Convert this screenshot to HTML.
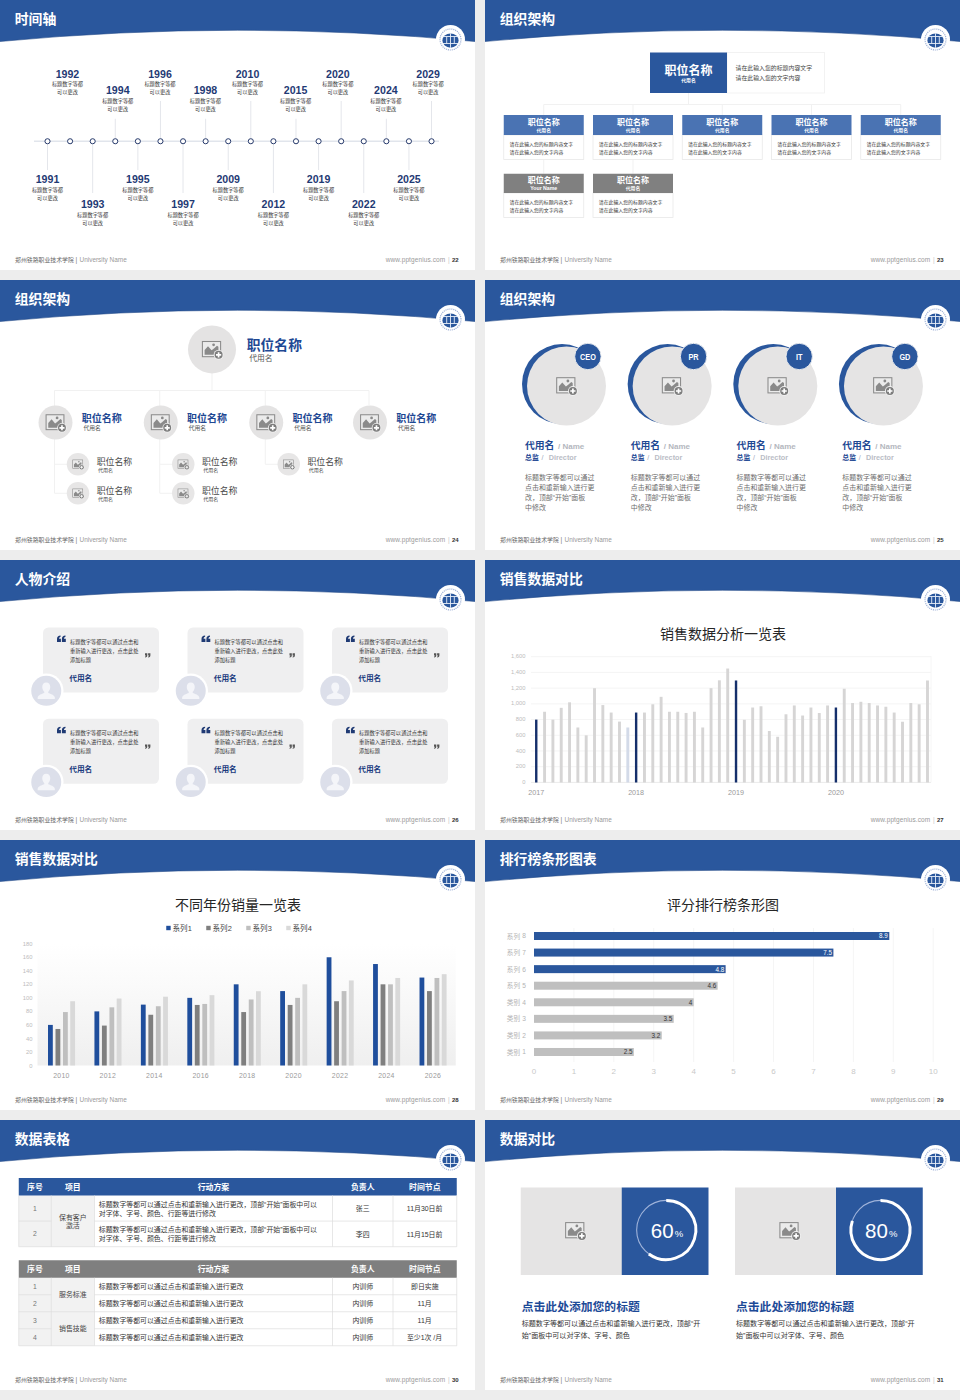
<!DOCTYPE html><html lang="zh"><head><meta charset="utf-8"><title>PPT slides</title><style>html,body{margin:0;padding:0}body{width:960px;height:1400px;background:#ededed;position:relative;overflow:hidden;font-family:"Liberation Sans","Noto Sans CJK SC",sans-serif}.s{position:absolute;width:475px;height:270px;background:#fff;overflow:hidden}.s svg{display:block}text{font-family:"Liberation Sans","Noto Sans CJK SC",sans-serif}#defs{position:absolute;width:0;height:0;overflow:hidden}</style></head><body>
<svg id="defs" width="0" height="0" aria-hidden="true"><defs><linearGradient id="pg" x1="0" y1="0" x2="0" y2="1"><stop offset="0" stop-color="#fff"/><stop offset="0.35" stop-color="#fafafa"/><stop offset="1" stop-color="#efefef"/></linearGradient><g id="imgico"><rect x="-9.6" y="-7.9" width="18.2" height="15.2" fill="#ebebeb" stroke="#8b8b8b" stroke-width="1.05"/><path d="M-7.4 5.3V0.6L-4 -3.2L-0.4 0.9L1.6 -0.6L5 -3.6L6.4 -2.6V5.3Z" fill="#8a8a8a"/><circle cx="1.6" cy="-4.6" r="1.4" fill="#8a8a8a"/><circle cx="6.6" cy="5.4" r="4.9" fill="#f1f1f1"/><circle cx="6.6" cy="5.4" r="4" fill="#7d7d7d"/><path d="M4 5.4H9.2M6.6 2.8V8" stroke="#fff" stroke-width="1.7"/></g><symbol id="logo" overflow="visible"><circle r="14.5" fill="#fff"/><circle r="10.5" fill="none" stroke="#9db0d6" stroke-width="1.2" stroke-dasharray="1.1 0.9"/><ellipse cy="1.1" rx="8.1" ry="7.1" fill="#2a579d"/><path d="M0 -6.2V8.4M-8 -3H8M-8 4H8M-3.8 -3V4M3.8 -3V4" stroke="#e8eef8" stroke-width="0.9" fill="none"/></symbol><symbol id="avatar" overflow="visible"><circle r="17.3" fill="#fff"/><circle r="15" fill="#dcdfea"/><path d="M0 -8.2c2.6 0 4 2 4 4.4c0 2.2 -1 3.9 -2 4.7v1.4c2.4 0.9 6 1.9 6.6 4.4v1.6h-17.2v-1.6c0.6 -2.5 4.2 -3.5 6.6 -4.4v-1.4c-1 -0.8 -2 -2.5 -2 -4.7c0 -2.4 1.4 -4.4 4 -4.4z" fill="#f4f5f9"/></symbol><symbol id="oq" overflow="visible"><path d="M0 6.4V3.4C0 1.3 1.2 0.1 3.6 0V1.2C2.6 1.5 2.1 2.2 2.1 3.2H3.9V6.4ZM4.9 6.4V3.4C4.9 1.3 6.1 0.1 8.5 0V1.2C7.5 1.5 7 2.2 7 3.2H8.8V6.4Z" fill="#1f3a74"/></symbol><symbol id="cq" overflow="visible"><path d="M0 0H2.3V2C2.3 3.4 1.5 4.2 0 4.3V3.5C0.6 3.3 0.9 2.9 0.9 2.2H0ZM3.1 0H5.4V2C5.4 3.4 4.6 4.2 3.1 4.3V3.5C3.7 3.3 4 2.9 4 2.2H3.1Z" fill="#555"/></symbol></defs></svg>
<section class="s" style="left:0px;top:0px"><svg width="475" height="270" viewBox="0 0 475 270"><path d="M0 0H475V41.5Q237.5 19 0 41.5Z" fill="#2a579d"/><path d="M475 41.5Q237.5 19 0 41.5" fill="none" stroke="#1f4685" stroke-width="0.8" opacity="0.7"/><use href="#logo" x="450.5" y="39.5"/><text x="14.7" y="24.01" font-size="13.85" font-weight="700" fill="#fff">时间轴</text><text x="15" y="261.74" font-size="5.9" fill="#666">郑州铁路职业技术学院</text><text x="75.5" y="261.83" font-size="6.5" fill="#777">|</text><text x="79.5" y="261.81" font-size="6.45" fill="#9a9a9a">University Name</text><text x="385.75" y="261.83" font-size="6.5" letter-spacing="0.1" fill="#9a9a9a">www.pptgenius.com</text><text x="448" y="261.83" font-size="6.5" fill="#c8c8c8">|</text><text x="452" y="261.65" font-size="6" font-weight="700" fill="#333">22</text><path d="M34 141.25L439 141.25" stroke="#e1e5ec" stroke-width="1.4" fill="none"/><path d="M47.5 144.5L47.5 170" stroke="#e4e6eb" stroke-width="1" fill="none"/><text x="47.5" y="183.29" font-size="10.6" font-weight="700" text-anchor="middle" fill="#1f3a74">1991</text><text x="31.9" y="192.48" font-size="5.2" fill="#333">标题数字等都</text><text x="37.1" y="200.23" font-size="5.2" fill="#333">可以更改</text><path d="M92.68 144.5L92.68 193" stroke="#e4e6eb" stroke-width="1" fill="none"/><text x="92.68" y="208.29" font-size="10.6" font-weight="700" text-anchor="middle" fill="#1f3a74">1993</text><text x="77.08" y="217.48" font-size="5.2" fill="#333">标题数字等都</text><text x="82.28" y="225.23" font-size="5.2" fill="#333">可以更改</text><path d="M137.86 144.5L137.86 170" stroke="#e4e6eb" stroke-width="1" fill="none"/><text x="137.86" y="183.29" font-size="10.6" font-weight="700" text-anchor="middle" fill="#1f3a74">1995</text><text x="122.26" y="192.48" font-size="5.2" fill="#333">标题数字等都</text><text x="127.46" y="200.23" font-size="5.2" fill="#333">可以更改</text><path d="M183.04 144.5L183.04 193" stroke="#e4e6eb" stroke-width="1" fill="none"/><text x="183.04" y="208.29" font-size="10.6" font-weight="700" text-anchor="middle" fill="#1f3a74">1997</text><text x="167.44" y="217.48" font-size="5.2" fill="#333">标题数字等都</text><text x="172.64" y="225.23" font-size="5.2" fill="#333">可以更改</text><path d="M228.22 144.5L228.22 170" stroke="#e4e6eb" stroke-width="1" fill="none"/><text x="228.22" y="183.29" font-size="10.6" font-weight="700" text-anchor="middle" fill="#1f3a74">2009</text><text x="212.62" y="192.48" font-size="5.2" fill="#333">标题数字等都</text><text x="217.82" y="200.23" font-size="5.2" fill="#333">可以更改</text><path d="M273.4 144.5L273.4 193" stroke="#e4e6eb" stroke-width="1" fill="none"/><text x="273.4" y="208.29" font-size="10.6" font-weight="700" text-anchor="middle" fill="#1f3a74">2012</text><text x="257.8" y="217.48" font-size="5.2" fill="#333">标题数字等都</text><text x="263" y="225.23" font-size="5.2" fill="#333">可以更改</text><path d="M318.58 144.5L318.58 170" stroke="#e4e6eb" stroke-width="1" fill="none"/><text x="318.58" y="183.29" font-size="10.6" font-weight="700" text-anchor="middle" fill="#1f3a74">2019</text><text x="302.98" y="192.48" font-size="5.2" fill="#333">标题数字等都</text><text x="308.18" y="200.23" font-size="5.2" fill="#333">可以更改</text><path d="M363.76 144.5L363.76 193" stroke="#e4e6eb" stroke-width="1" fill="none"/><text x="363.76" y="208.29" font-size="10.6" font-weight="700" text-anchor="middle" fill="#1f3a74">2022</text><text x="348.16" y="217.48" font-size="5.2" fill="#333">标题数字等都</text><text x="353.36" y="225.23" font-size="5.2" fill="#333">可以更改</text><path d="M408.94 144.5L408.94 170" stroke="#e4e6eb" stroke-width="1" fill="none"/><text x="408.94" y="183.29" font-size="10.6" font-weight="700" text-anchor="middle" fill="#1f3a74">2025</text><text x="393.34" y="192.48" font-size="5.2" fill="#333">标题数字等都</text><text x="398.54" y="200.23" font-size="5.2" fill="#333">可以更改</text><text x="67.49" y="77.54" font-size="10.6" font-weight="700" text-anchor="middle" fill="#1f3a74">1992</text><text x="51.89" y="86.48" font-size="5.2" fill="#333">标题数字等都</text><text x="57.09" y="94.33" font-size="5.2" fill="#333">可以更改</text><path d="M115.27 118.75L115.27 138" stroke="#e4e6eb" stroke-width="1" fill="none"/><text x="117.77" y="93.79" font-size="10.6" font-weight="700" text-anchor="middle" fill="#1f3a74">1994</text><text x="102.17" y="102.73" font-size="5.2" fill="#333">标题数字等都</text><text x="107.37" y="110.58" font-size="5.2" fill="#333">可以更改</text><path d="M160.45 101L160.45 138" stroke="#e4e6eb" stroke-width="1" fill="none"/><text x="160" y="77.54" font-size="10.6" font-weight="700" text-anchor="middle" fill="#1f3a74">1996</text><text x="144.4" y="86.48" font-size="5.2" fill="#333">标题数字等都</text><text x="149.6" y="94.33" font-size="5.2" fill="#333">可以更改</text><path d="M205.63 118.75L205.63 138" stroke="#e4e6eb" stroke-width="1" fill="none"/><text x="205.43" y="93.79" font-size="10.6" font-weight="700" text-anchor="middle" fill="#1f3a74">1998</text><text x="189.83" y="102.73" font-size="5.2" fill="#333">标题数字等都</text><text x="195.03" y="110.58" font-size="5.2" fill="#333">可以更改</text><path d="M250.81 101L250.81 138" stroke="#e4e6eb" stroke-width="1" fill="none"/><text x="247.51" y="77.54" font-size="10.6" font-weight="700" text-anchor="middle" fill="#1f3a74">2010</text><text x="231.91" y="86.48" font-size="5.2" fill="#333">标题数字等都</text><text x="237.11" y="94.33" font-size="5.2" fill="#333">可以更改</text><path d="M295.99 118.75L295.99 138" stroke="#e4e6eb" stroke-width="1" fill="none"/><text x="295.59" y="93.79" font-size="10.6" font-weight="700" text-anchor="middle" fill="#1f3a74">2015</text><text x="279.99" y="102.73" font-size="5.2" fill="#333">标题数字等都</text><text x="285.19" y="110.58" font-size="5.2" fill="#333">可以更改</text><path d="M341.17 101L341.17 138" stroke="#e4e6eb" stroke-width="1" fill="none"/><text x="337.87" y="77.54" font-size="10.6" font-weight="700" text-anchor="middle" fill="#1f3a74">2020</text><text x="322.27" y="86.48" font-size="5.2" fill="#333">标题数字等都</text><text x="327.47" y="94.33" font-size="5.2" fill="#333">可以更改</text><path d="M386.35 118.75L386.35 138" stroke="#e4e6eb" stroke-width="1" fill="none"/><text x="385.9" y="93.79" font-size="10.6" font-weight="700" text-anchor="middle" fill="#1f3a74">2024</text><text x="370.3" y="102.73" font-size="5.2" fill="#333">标题数字等都</text><text x="375.5" y="110.58" font-size="5.2" fill="#333">可以更改</text><path d="M431.53 101L431.53 138" stroke="#e4e6eb" stroke-width="1" fill="none"/><text x="428.13" y="77.54" font-size="10.6" font-weight="700" text-anchor="middle" fill="#1f3a74">2029</text><text x="412.53" y="86.48" font-size="5.2" fill="#333">标题数字等都</text><text x="417.73" y="94.33" font-size="5.2" fill="#333">可以更改</text><circle cx="47.5" cy="141.25" r="2.55" fill="#fff" stroke="#1b2f63" stroke-width="0.95"/><circle cx="70.09" cy="141.25" r="2.55" fill="#fff" stroke="#1b2f63" stroke-width="0.95"/><circle cx="92.68" cy="141.25" r="2.55" fill="#fff" stroke="#1b2f63" stroke-width="0.95"/><circle cx="115.27" cy="141.25" r="2.55" fill="#fff" stroke="#1b2f63" stroke-width="0.95"/><circle cx="137.86" cy="141.25" r="2.55" fill="#fff" stroke="#1b2f63" stroke-width="0.95"/><circle cx="160.45" cy="141.25" r="2.55" fill="#fff" stroke="#1b2f63" stroke-width="0.95"/><circle cx="183.04" cy="141.25" r="2.55" fill="#fff" stroke="#1b2f63" stroke-width="0.95"/><circle cx="205.63" cy="141.25" r="2.55" fill="#fff" stroke="#1b2f63" stroke-width="0.95"/><circle cx="228.22" cy="141.25" r="2.55" fill="#fff" stroke="#1b2f63" stroke-width="0.95"/><circle cx="250.81" cy="141.25" r="2.55" fill="#fff" stroke="#1b2f63" stroke-width="0.95"/><circle cx="273.4" cy="141.25" r="2.55" fill="#fff" stroke="#1b2f63" stroke-width="0.95"/><circle cx="295.99" cy="141.25" r="2.55" fill="#fff" stroke="#1b2f63" stroke-width="0.95"/><circle cx="318.58" cy="141.25" r="2.55" fill="#fff" stroke="#1b2f63" stroke-width="0.95"/><circle cx="341.17" cy="141.25" r="2.55" fill="#fff" stroke="#1b2f63" stroke-width="0.95"/><circle cx="363.76" cy="141.25" r="2.55" fill="#fff" stroke="#1b2f63" stroke-width="0.95"/><circle cx="386.35" cy="141.25" r="2.55" fill="#fff" stroke="#1b2f63" stroke-width="0.95"/><circle cx="408.94" cy="141.25" r="2.55" fill="#fff" stroke="#1b2f63" stroke-width="0.95"/><circle cx="431.53" cy="141.25" r="2.55" fill="#fff" stroke="#1b2f63" stroke-width="0.95"/></svg></section>
<section class="s" style="left:485px;top:0px"><svg width="475" height="270" viewBox="0 0 475 270"><path d="M0 0H475V41.5Q237.5 19 0 41.5Z" fill="#2a579d"/><path d="M475 41.5Q237.5 19 0 41.5" fill="none" stroke="#1f4685" stroke-width="0.8" opacity="0.7"/><use href="#logo" x="450.5" y="39.5"/><text x="14.7" y="24.01" font-size="13.85" font-weight="700" fill="#fff">组织架构</text><text x="15" y="261.74" font-size="5.9" fill="#666">郑州铁路职业技术学院</text><text x="75.5" y="261.83" font-size="6.5" fill="#777">|</text><text x="79.5" y="261.81" font-size="6.45" fill="#9a9a9a">University Name</text><text x="385.75" y="261.83" font-size="6.5" letter-spacing="0.1" fill="#9a9a9a">www.pptgenius.com</text><text x="448" y="261.83" font-size="6.5" fill="#c8c8c8">|</text><text x="452" y="261.65" font-size="6" font-weight="700" fill="#333">23</text><path d="M203.5 93L203.5 104.5" stroke="#f1f1f1" stroke-width="1" fill="none"/><path d="M58.75 104.5L415.75 104.5" stroke="#f1f1f1" stroke-width="1" fill="none"/><path d="M58.75 104.5L58.75 115" stroke="#f1f1f1" stroke-width="1" fill="none"/><path d="M148 104.5L148 115" stroke="#f1f1f1" stroke-width="1" fill="none"/><path d="M237.25 104.5L237.25 115" stroke="#f1f1f1" stroke-width="1" fill="none"/><path d="M326.5 104.5L326.5 115" stroke="#f1f1f1" stroke-width="1" fill="none"/><path d="M415.75 104.5L415.75 115" stroke="#f1f1f1" stroke-width="1" fill="none"/><path d="M58.75 159.5L58.75 173.75" stroke="#f1f1f1" stroke-width="1" fill="none"/><path d="M148 159.5L148 173.75" stroke="#f1f1f1" stroke-width="1" fill="none"/><rect x="242" y="52.5" width="97.5" height="40.5" fill="#fff" stroke="#efefef" stroke-width="0.8"/><rect x="165" y="52.5" width="77" height="40.5" fill="#2a579d"/><text x="179.5" y="74.56" font-size="12" font-weight="700" fill="#fff">职位名称</text><text x="196.3" y="82.12" font-size="4.8" font-weight="700" fill="#fff">代用名</text><text x="250.5" y="70.49" font-size="5.9" fill="#444">请在此输入您的标题内容文字</text><text x="250.5" y="80.24" font-size="5.9" fill="#444">请在此输入您的文字内容</text><rect x="18.75" y="135" width="80" height="24.5" fill="#fff" stroke="#e8e8e8" stroke-width="0.8"/><rect x="18.75" y="115" width="80" height="20" fill="#4a73b3"/><text x="42.75" y="125.04" font-size="8" font-weight="700" fill="#fff">职位名称</text><text x="51.55" y="132.32" font-size="4.8" font-weight="700" fill="#fff">代用名</text><text x="24.5" y="145.61" font-size="4.9" fill="#333">请在此输入您的标题内容文字</text><text x="24.5" y="153.61" font-size="4.9" fill="#333">请在此输入您的文字内容</text><rect x="108" y="135" width="80" height="24.5" fill="#fff" stroke="#e8e8e8" stroke-width="0.8"/><rect x="108" y="115" width="80" height="20" fill="#4a73b3"/><text x="132" y="125.04" font-size="8" font-weight="700" fill="#fff">职位名称</text><text x="140.8" y="132.32" font-size="4.8" font-weight="700" fill="#fff">代用名</text><text x="113.75" y="145.61" font-size="4.9" fill="#333">请在此输入您的标题内容文字</text><text x="113.75" y="153.61" font-size="4.9" fill="#333">请在此输入您的文字内容</text><rect x="197.25" y="135" width="80" height="24.5" fill="#fff" stroke="#e8e8e8" stroke-width="0.8"/><rect x="197.25" y="115" width="80" height="20" fill="#4a73b3"/><text x="221.25" y="125.04" font-size="8" font-weight="700" fill="#fff">职位名称</text><text x="230.05" y="132.32" font-size="4.8" font-weight="700" fill="#fff">代用名</text><text x="203" y="145.61" font-size="4.9" fill="#333">请在此输入您的标题内容文字</text><text x="203" y="153.61" font-size="4.9" fill="#333">请在此输入您的文字内容</text><rect x="286.5" y="135" width="80" height="24.5" fill="#fff" stroke="#e8e8e8" stroke-width="0.8"/><rect x="286.5" y="115" width="80" height="20" fill="#4a73b3"/><text x="310.5" y="125.04" font-size="8" font-weight="700" fill="#fff">职位名称</text><text x="319.3" y="132.32" font-size="4.8" font-weight="700" fill="#fff">代用名</text><text x="292.25" y="145.61" font-size="4.9" fill="#333">请在此输入您的标题内容文字</text><text x="292.25" y="153.61" font-size="4.9" fill="#333">请在此输入您的文字内容</text><rect x="375.75" y="135" width="80" height="24.5" fill="#fff" stroke="#e8e8e8" stroke-width="0.8"/><rect x="375.75" y="115" width="80" height="20" fill="#4a73b3"/><text x="399.75" y="125.04" font-size="8" font-weight="700" fill="#fff">职位名称</text><text x="408.55" y="132.32" font-size="4.8" font-weight="700" fill="#fff">代用名</text><text x="381.5" y="145.61" font-size="4.9" fill="#333">请在此输入您的标题内容文字</text><text x="381.5" y="153.61" font-size="4.9" fill="#333">请在此输入您的文字内容</text><rect x="18.75" y="193" width="80" height="24.5" fill="#fff" stroke="#e8e8e8" stroke-width="0.8"/><rect x="18.75" y="173.75" width="80" height="19.25" fill="#808080"/><text x="42.75" y="182.54" font-size="8" font-weight="700" fill="#fff">职位名称</text><text x="58.75" y="190.16" font-size="5.2" font-weight="700" text-anchor="middle" fill="#fff">Your Name</text><text x="24.5" y="203.86" font-size="4.9" fill="#333">请在此输入您的标题内容文字</text><text x="24.5" y="211.86" font-size="4.9" fill="#333">请在此输入您的文字内容</text><rect x="108" y="193" width="80" height="24.5" fill="#fff" stroke="#e8e8e8" stroke-width="0.8"/><rect x="108" y="173.75" width="80" height="19.25" fill="#808080"/><text x="132" y="182.54" font-size="8" font-weight="700" fill="#fff">职位名称</text><text x="140.8" y="190.07" font-size="4.8" font-weight="700" fill="#fff">代用名</text><text x="113.75" y="203.86" font-size="4.9" fill="#333">请在此输入您的标题内容文字</text><text x="113.75" y="211.86" font-size="4.9" fill="#333">请在此输入您的文字内容</text></svg></section>
<section class="s" style="left:0px;top:280px"><svg width="475" height="270" viewBox="0 0 475 270"><path d="M0 0H475V41.5Q237.5 19 0 41.5Z" fill="#2a579d"/><path d="M475 41.5Q237.5 19 0 41.5" fill="none" stroke="#1f4685" stroke-width="0.8" opacity="0.7"/><use href="#logo" x="450.5" y="39.5"/><text x="14.7" y="24.01" font-size="13.85" font-weight="700" fill="#fff">组织架构</text><text x="15" y="261.74" font-size="5.9" fill="#666">郑州铁路职业技术学院</text><text x="75.5" y="261.83" font-size="6.5" fill="#777">|</text><text x="79.5" y="261.81" font-size="6.45" fill="#9a9a9a">University Name</text><text x="385.75" y="261.83" font-size="6.5" letter-spacing="0.1" fill="#9a9a9a">www.pptgenius.com</text><text x="448" y="261.83" font-size="6.5" fill="#c8c8c8">|</text><text x="452" y="261.65" font-size="6" font-weight="700" fill="#333">24</text><path d="M212 93L212 110.5" stroke="#f1f1f1" stroke-width="1" fill="none"/><path d="M54.5 110.5L369 110.5" stroke="#f1f1f1" stroke-width="1" fill="none"/><path d="M54.5 110.5L54.5 213.25" stroke="#f1f1f1" stroke-width="1" fill="none"/><path d="M54.5 184.25L67.5 184.25" stroke="#f1f1f1" stroke-width="1" fill="none"/><path d="M54.5 213.25L67.5 213.25" stroke="#f1f1f1" stroke-width="1" fill="none"/><path d="M159.75 110.5L159.75 213.25" stroke="#f1f1f1" stroke-width="1" fill="none"/><path d="M159.75 184.25L172.75 184.25" stroke="#f1f1f1" stroke-width="1" fill="none"/><path d="M159.75 213.25L172.75 213.25" stroke="#f1f1f1" stroke-width="1" fill="none"/><path d="M265.25 110.5L265.25 184.25" stroke="#f1f1f1" stroke-width="1" fill="none"/><path d="M265.25 184.25L278.25 184.25" stroke="#f1f1f1" stroke-width="1" fill="none"/><path d="M369 110.5L369 125" stroke="#f1f1f1" stroke-width="1" fill="none"/><circle cx="212" cy="69.4" r="24" fill="#e4e3e3"/><use href="#imgico" transform="translate(212 69.4) scale(1)"/><text x="246.75" y="70.24" font-size="13.8" font-weight="700" fill="#1e4893">职位名称</text><text x="249.25" y="80.94" font-size="7.75" fill="#555">代用名</text><circle cx="55.5" cy="142.5" r="17" fill="#e4e3e3"/><use href="#imgico" transform="translate(55.5 142.5) scale(0.98)"/><text x="81.75" y="141.8" font-size="10" font-weight="700" fill="#1e4893">职位名称</text><text x="83.5" y="150.2" font-size="5.8" fill="#555">代用名</text><circle cx="78" cy="184.25" r="11.25" fill="#e7e6e6"/><use href="#imgico" transform="translate(78 184.25) scale(0.55)"/><text x="96.75" y="185.13" font-size="8.9" fill="#4a4a4a">职位名称</text><text x="98" y="191.9" font-size="5" fill="#444">代用名</text><circle cx="78" cy="213.25" r="11.25" fill="#e7e6e6"/><use href="#imgico" transform="translate(78 213.25) scale(0.55)"/><text x="96.75" y="214.13" font-size="8.9" fill="#4a4a4a">职位名称</text><text x="98" y="220.9" font-size="5" fill="#444">代用名</text><circle cx="160.75" cy="142.5" r="17" fill="#e4e3e3"/><use href="#imgico" transform="translate(160.75 142.5) scale(0.98)"/><text x="187" y="141.8" font-size="10" font-weight="700" fill="#1e4893">职位名称</text><text x="188.75" y="150.2" font-size="5.8" fill="#555">代用名</text><circle cx="183.25" cy="184.25" r="11.25" fill="#e7e6e6"/><use href="#imgico" transform="translate(183.25 184.25) scale(0.55)"/><text x="202" y="185.13" font-size="8.9" fill="#4a4a4a">职位名称</text><text x="203.25" y="191.9" font-size="5" fill="#444">代用名</text><circle cx="183.25" cy="213.25" r="11.25" fill="#e7e6e6"/><use href="#imgico" transform="translate(183.25 213.25) scale(0.55)"/><text x="202" y="214.13" font-size="8.9" fill="#4a4a4a">职位名称</text><text x="203.25" y="220.9" font-size="5" fill="#444">代用名</text><circle cx="266.25" cy="142.5" r="17" fill="#e4e3e3"/><use href="#imgico" transform="translate(266.25 142.5) scale(0.98)"/><text x="292.5" y="141.8" font-size="10" font-weight="700" fill="#1e4893">职位名称</text><text x="294.25" y="150.2" font-size="5.8" fill="#555">代用名</text><circle cx="288.75" cy="184.25" r="11.25" fill="#e7e6e6"/><use href="#imgico" transform="translate(288.75 184.25) scale(0.55)"/><text x="307.5" y="185.13" font-size="8.9" fill="#4a4a4a">职位名称</text><text x="308.75" y="191.9" font-size="5" fill="#444">代用名</text><circle cx="370" cy="142.5" r="17" fill="#e4e3e3"/><use href="#imgico" transform="translate(370 142.5) scale(0.98)"/><text x="396.25" y="141.8" font-size="10" font-weight="700" fill="#1e4893">职位名称</text><text x="398" y="150.2" font-size="5.8" fill="#555">代用名</text></svg></section>
<section class="s" style="left:485px;top:280px"><svg width="475" height="270" viewBox="0 0 475 270"><path d="M0 0H475V41.5Q237.5 19 0 41.5Z" fill="#2a579d"/><path d="M475 41.5Q237.5 19 0 41.5" fill="none" stroke="#1f4685" stroke-width="0.8" opacity="0.7"/><use href="#logo" x="450.5" y="39.5"/><text x="14.7" y="24.01" font-size="13.85" font-weight="700" fill="#fff">组织架构</text><text x="15" y="261.74" font-size="5.9" fill="#666">郑州铁路职业技术学院</text><text x="75.5" y="261.83" font-size="6.5" fill="#777">|</text><text x="79.5" y="261.81" font-size="6.45" fill="#9a9a9a">University Name</text><text x="385.75" y="261.83" font-size="6.5" letter-spacing="0.1" fill="#9a9a9a">www.pptgenius.com</text><text x="448" y="261.83" font-size="6.5" fill="#c8c8c8">|</text><text x="452" y="261.65" font-size="6" font-weight="700" fill="#333">25</text><circle cx="77" cy="104.1" r="40" fill="#2a579d"/><circle cx="81.5" cy="106" r="39.5" fill="#e5e4e4"/><use href="#imgico" transform="translate(81.3 105.6) scale(1)"/><circle cx="102.9" cy="76.5" r="13.2" fill="#2a579d" stroke="#f3f3f3" stroke-width="0.9"/><text transform="translate(102.9 79.61) scale(0.87 1)" font-size="8.4" font-weight="700" text-anchor="middle" fill="#fff">CEO</text><text x="40" y="169.22" font-size="9.8" font-weight="700" fill="#1e4893">代用名</text><text x="73" y="168.86" font-size="8" font-weight="700" fill="#b4b7be">/ Name</text><text x="40" y="180.12" font-size="6.9" font-weight="700" fill="#1e4893">总监</text><text x="56.5" y="180.01" font-size="7" fill="#9aa5bb">/</text><text x="63.75" y="180.3" font-size="7.25" font-weight="700" fill="#babdc6">Director</text><text x="40" y="199.64" font-size="6.95" fill="#6e6e6e">标题数字等都可以通过</text><text x="40" y="209.64" font-size="6.95" fill="#6e6e6e">点击和重新输入进行更</text><text x="40" y="219.64" font-size="6.95" fill="#6e6e6e">改，顶部“开始”面板</text><text x="40" y="229.64" font-size="6.95" fill="#6e6e6e">中修改</text><circle cx="182.65" cy="104.1" r="40" fill="#2a579d"/><circle cx="187.15" cy="106" r="39.5" fill="#e5e4e4"/><use href="#imgico" transform="translate(186.95 105.6) scale(1)"/><circle cx="208.55" cy="76.5" r="13.2" fill="#2a579d" stroke="#f3f3f3" stroke-width="0.9"/><text transform="translate(208.55 79.61) scale(0.87 1)" font-size="8.4" font-weight="700" text-anchor="middle" fill="#fff">PR</text><text x="145.75" y="169.22" font-size="9.8" font-weight="700" fill="#1e4893">代用名</text><text x="178.75" y="168.86" font-size="8" font-weight="700" fill="#b4b7be">/ Name</text><text x="145.75" y="180.12" font-size="6.9" font-weight="700" fill="#1e4893">总监</text><text x="162.25" y="180.01" font-size="7" fill="#9aa5bb">/</text><text x="169.5" y="180.3" font-size="7.25" font-weight="700" fill="#babdc6">Director</text><text x="145.75" y="199.64" font-size="6.95" fill="#6e6e6e">标题数字等都可以通过</text><text x="145.75" y="209.64" font-size="6.95" fill="#6e6e6e">点击和重新输入进行更</text><text x="145.75" y="219.64" font-size="6.95" fill="#6e6e6e">改，顶部“开始”面板</text><text x="145.75" y="229.64" font-size="6.95" fill="#6e6e6e">中修改</text><circle cx="288.3" cy="104.1" r="40" fill="#2a579d"/><circle cx="292.8" cy="106" r="39.5" fill="#e5e4e4"/><use href="#imgico" transform="translate(292.6 105.6) scale(1)"/><circle cx="314.2" cy="76.5" r="13.2" fill="#2a579d" stroke="#f3f3f3" stroke-width="0.9"/><text transform="translate(314.2 79.61) scale(0.87 1)" font-size="8.4" font-weight="700" text-anchor="middle" fill="#fff">IT</text><text x="251.5" y="169.22" font-size="9.8" font-weight="700" fill="#1e4893">代用名</text><text x="284.5" y="168.86" font-size="8" font-weight="700" fill="#b4b7be">/ Name</text><text x="251.5" y="180.12" font-size="6.9" font-weight="700" fill="#1e4893">总监</text><text x="268" y="180.01" font-size="7" fill="#9aa5bb">/</text><text x="275.25" y="180.3" font-size="7.25" font-weight="700" fill="#babdc6">Director</text><text x="251.5" y="199.64" font-size="6.95" fill="#6e6e6e">标题数字等都可以通过</text><text x="251.5" y="209.64" font-size="6.95" fill="#6e6e6e">点击和重新输入进行更</text><text x="251.5" y="219.64" font-size="6.95" fill="#6e6e6e">改，顶部“开始”面板</text><text x="251.5" y="229.64" font-size="6.95" fill="#6e6e6e">中修改</text><circle cx="393.95" cy="104.1" r="40" fill="#2a579d"/><circle cx="398.45" cy="106" r="39.5" fill="#e5e4e4"/><use href="#imgico" transform="translate(398.25 105.6) scale(1)"/><circle cx="419.85" cy="76.5" r="13.2" fill="#2a579d" stroke="#f3f3f3" stroke-width="0.9"/><text transform="translate(419.85 79.61) scale(0.87 1)" font-size="8.4" font-weight="700" text-anchor="middle" fill="#fff">GD</text><text x="357.25" y="169.22" font-size="9.8" font-weight="700" fill="#1e4893">代用名</text><text x="390.25" y="168.86" font-size="8" font-weight="700" fill="#b4b7be">/ Name</text><text x="357.25" y="180.12" font-size="6.9" font-weight="700" fill="#1e4893">总监</text><text x="373.75" y="180.01" font-size="7" fill="#9aa5bb">/</text><text x="381" y="180.3" font-size="7.25" font-weight="700" fill="#babdc6">Director</text><text x="357.25" y="199.64" font-size="6.95" fill="#6e6e6e">标题数字等都可以通过</text><text x="357.25" y="209.64" font-size="6.95" fill="#6e6e6e">点击和重新输入进行更</text><text x="357.25" y="219.64" font-size="6.95" fill="#6e6e6e">改，顶部“开始”面板</text><text x="357.25" y="229.64" font-size="6.95" fill="#6e6e6e">中修改</text></svg></section>
<section class="s" style="left:0px;top:560px"><svg width="475" height="270" viewBox="0 0 475 270"><path d="M0 0H475V41.5Q237.5 19 0 41.5Z" fill="#2a579d"/><path d="M475 41.5Q237.5 19 0 41.5" fill="none" stroke="#1f4685" stroke-width="0.8" opacity="0.7"/><use href="#logo" x="450.5" y="39.5"/><text x="14.7" y="24.01" font-size="13.85" font-weight="700" fill="#fff">人物介绍</text><text x="15" y="261.74" font-size="5.9" fill="#666">郑州铁路职业技术学院</text><text x="75.5" y="261.83" font-size="6.5" fill="#777">|</text><text x="79.5" y="261.81" font-size="6.45" fill="#9a9a9a">University Name</text><text x="385.75" y="261.83" font-size="6.5" letter-spacing="0.1" fill="#9a9a9a">www.pptgenius.com</text><text x="448" y="261.83" font-size="6.5" fill="#c8c8c8">|</text><text x="452" y="261.65" font-size="6" font-weight="700" fill="#333">26</text><rect x="43" y="67.5" width="116" height="65" fill="#efeff0" rx="5.5"/><use href="#avatar" x="46.25" y="130.8"/><use href="#oq" x="57" y="75.5"/><use href="#cq" x="145" y="93.3"/><text x="70" y="83.8" font-size="5.27" fill="#333">标题数字等都可以通过点击和</text><text x="70" y="92.85" font-size="5.27" fill="#333">重新输入进行更改，点击此处</text><text x="70" y="101.9" font-size="5.27" fill="#333">添加标题</text><text x="69.2" y="121.23" font-size="7.7" font-weight="700" fill="#1b3b7e">代用名</text><rect x="187.5" y="67.5" width="116" height="65" fill="#efeff0" rx="5.5"/><use href="#avatar" x="190.75" y="130.8"/><use href="#oq" x="201.5" y="75.5"/><use href="#cq" x="289.5" y="93.3"/><text x="214.5" y="83.8" font-size="5.27" fill="#333">标题数字等都可以通过点击和</text><text x="214.5" y="92.85" font-size="5.27" fill="#333">重新输入进行更改，点击此处</text><text x="214.5" y="101.9" font-size="5.27" fill="#333">添加标题</text><text x="213.7" y="121.23" font-size="7.7" font-weight="700" fill="#1b3b7e">代用名</text><rect x="332" y="67.5" width="116" height="65" fill="#efeff0" rx="5.5"/><use href="#avatar" x="335.25" y="130.8"/><use href="#oq" x="346" y="75.5"/><use href="#cq" x="434" y="93.3"/><text x="359" y="83.8" font-size="5.27" fill="#333">标题数字等都可以通过点击和</text><text x="359" y="92.85" font-size="5.27" fill="#333">重新输入进行更改，点击此处</text><text x="359" y="101.9" font-size="5.27" fill="#333">添加标题</text><text x="358.2" y="121.23" font-size="7.7" font-weight="700" fill="#1b3b7e">代用名</text><rect x="43" y="158.75" width="116" height="65" fill="#efeff0" rx="5.5"/><use href="#avatar" x="46.25" y="222.05"/><use href="#oq" x="57" y="166.75"/><use href="#cq" x="145" y="184.55"/><text x="70" y="175.05" font-size="5.27" fill="#333">标题数字等都可以通过点击和</text><text x="70" y="184.1" font-size="5.27" fill="#333">重新输入进行更改，点击此处</text><text x="70" y="193.15" font-size="5.27" fill="#333">添加标题</text><text x="69.2" y="212.48" font-size="7.7" font-weight="700" fill="#1b3b7e">代用名</text><rect x="187.5" y="158.75" width="116" height="65" fill="#efeff0" rx="5.5"/><use href="#avatar" x="190.75" y="222.05"/><use href="#oq" x="201.5" y="166.75"/><use href="#cq" x="289.5" y="184.55"/><text x="214.5" y="175.05" font-size="5.27" fill="#333">标题数字等都可以通过点击和</text><text x="214.5" y="184.1" font-size="5.27" fill="#333">重新输入进行更改，点击此处</text><text x="214.5" y="193.15" font-size="5.27" fill="#333">添加标题</text><text x="213.7" y="212.48" font-size="7.7" font-weight="700" fill="#1b3b7e">代用名</text><rect x="332" y="158.75" width="116" height="65" fill="#efeff0" rx="5.5"/><use href="#avatar" x="335.25" y="222.05"/><use href="#oq" x="346" y="166.75"/><use href="#cq" x="434" y="184.55"/><text x="359" y="175.05" font-size="5.27" fill="#333">标题数字等都可以通过点击和</text><text x="359" y="184.1" font-size="5.27" fill="#333">重新输入进行更改，点击此处</text><text x="359" y="193.15" font-size="5.27" fill="#333">添加标题</text><text x="358.2" y="212.48" font-size="7.7" font-weight="700" fill="#1b3b7e">代用名</text></svg></section>
<section class="s" style="left:485px;top:560px"><svg width="475" height="270" viewBox="0 0 475 270"><path d="M0 0H475V41.5Q237.5 19 0 41.5Z" fill="#2a579d"/><path d="M475 41.5Q237.5 19 0 41.5" fill="none" stroke="#1f4685" stroke-width="0.8" opacity="0.7"/><use href="#logo" x="450.5" y="39.5"/><text x="14.7" y="24.01" font-size="13.85" font-weight="700" fill="#fff">销售数据对比</text><text x="15" y="261.74" font-size="5.9" fill="#666">郑州铁路职业技术学院</text><text x="75.5" y="261.83" font-size="6.5" fill="#777">|</text><text x="79.5" y="261.81" font-size="6.45" fill="#9a9a9a">University Name</text><text x="385.75" y="261.83" font-size="6.5" letter-spacing="0.1" fill="#9a9a9a">www.pptgenius.com</text><text x="448" y="261.83" font-size="6.5" fill="#c8c8c8">|</text><text x="452" y="261.65" font-size="6" font-weight="700" fill="#333">27</text><text x="175" y="79.07" font-size="14" fill="#262626">销售数据分析一览表</text><text x="40.5" y="224.08" font-size="5.8" text-anchor="end" fill="#bcbcbc">0</text><path d="M46 222.4L446 222.4" stroke="#e6e6e6" stroke-width="0.8" fill="none"/><text x="40.5" y="208.36" font-size="5.8" text-anchor="end" fill="#bcbcbc">200</text><path d="M46 206.68L446 206.68" stroke="#f1f1f1" stroke-width="0.8" fill="none"/><text x="40.5" y="192.64" font-size="5.8" text-anchor="end" fill="#bcbcbc">400</text><path d="M46 190.96L446 190.96" stroke="#f1f1f1" stroke-width="0.8" fill="none"/><text x="40.5" y="176.92" font-size="5.8" text-anchor="end" fill="#bcbcbc">600</text><path d="M46 175.24L446 175.24" stroke="#f1f1f1" stroke-width="0.8" fill="none"/><text x="40.5" y="161.2" font-size="5.8" text-anchor="end" fill="#bcbcbc">800</text><path d="M46 159.52L446 159.52" stroke="#f1f1f1" stroke-width="0.8" fill="none"/><text x="40.5" y="145.48" font-size="5.8" text-anchor="end" fill="#bcbcbc">1,000</text><path d="M46 143.8L446 143.8" stroke="#f1f1f1" stroke-width="0.8" fill="none"/><text x="40.5" y="129.76" font-size="5.8" text-anchor="end" fill="#bcbcbc">1,200</text><path d="M46 128.08L446 128.08" stroke="#f1f1f1" stroke-width="0.8" fill="none"/><text x="40.5" y="114.04" font-size="5.8" text-anchor="end" fill="#bcbcbc">1,400</text><path d="M46 112.36L446 112.36" stroke="#f1f1f1" stroke-width="0.8" fill="none"/><text x="40.5" y="98.32" font-size="5.8" text-anchor="end" fill="#bcbcbc">1,600</text><path d="M46 96.64L446 96.64" stroke="#f1f1f1" stroke-width="0.8" fill="none"/><path d="M446 96L446 222.4" stroke="#f4f4f4" stroke-width="0.8" fill="none"/><rect x="50.05" y="159.62" width="2.4" height="62.88" fill="#152f6b"/><rect x="58.12" y="151.76" width="2.9" height="70.74" fill="#d6d5d5"/><rect x="66.45" y="159.62" width="2.9" height="62.88" fill="#d6d5d5"/><rect x="74.77" y="147.83" width="2.9" height="74.67" fill="#d6d5d5"/><rect x="83.1" y="142.33" width="2.9" height="80.17" fill="#d6d5d5"/><rect x="91.42" y="167.48" width="2.9" height="55.02" fill="#d6d5d5"/><rect x="99.74" y="175.34" width="2.9" height="47.16" fill="#d6d5d5"/><rect x="108.07" y="128.18" width="2.9" height="94.32" fill="#d6d5d5"/><rect x="116.39" y="145.08" width="2.9" height="77.42" fill="#d6d5d5"/><rect x="124.72" y="152.55" width="2.9" height="69.95" fill="#d6d5d5"/><rect x="133.04" y="161.59" width="2.9" height="60.91" fill="#d6d5d5"/><rect x="141.36" y="167.48" width="2.9" height="55.02" fill="#d3dae8"/><rect x="149.94" y="152.55" width="2.4" height="69.95" fill="#152f6b"/><rect x="158.01" y="152.55" width="2.9" height="69.95" fill="#d6d5d5"/><rect x="166.34" y="144.29" width="2.9" height="78.21" fill="#d6d5d5"/><rect x="174.66" y="136.83" width="2.9" height="85.67" fill="#d6d5d5"/><rect x="182.98" y="151.76" width="2.9" height="70.74" fill="#d6d5d5"/><rect x="191.31" y="151.76" width="2.9" height="70.74" fill="#d6d5d5"/><rect x="199.63" y="152.94" width="2.9" height="69.56" fill="#d6d5d5"/><rect x="207.96" y="151.76" width="2.9" height="70.74" fill="#d6d5d5"/><rect x="216.28" y="167.48" width="2.9" height="55.02" fill="#d6d5d5"/><rect x="224.6" y="128.18" width="2.9" height="94.32" fill="#d6d5d5"/><rect x="232.93" y="120.32" width="2.9" height="102.18" fill="#d6d5d5"/><rect x="241.25" y="108.53" width="2.9" height="113.97" fill="#d6d5d5"/><rect x="249.83" y="120.48" width="2.4" height="102.02" fill="#152f6b"/><rect x="257.9" y="159.78" width="2.9" height="62.72" fill="#d6d5d5"/><rect x="266.22" y="147.52" width="2.9" height="74.98" fill="#d6d5d5"/><rect x="274.55" y="146.26" width="2.9" height="76.24" fill="#d6d5d5"/><rect x="282.87" y="171.02" width="2.9" height="51.48" fill="#d6d5d5"/><rect x="291.2" y="176.75" width="2.9" height="45.75" fill="#d6d5d5"/><rect x="299.52" y="154.28" width="2.9" height="68.22" fill="#d6d5d5"/><rect x="307.84" y="145.47" width="2.9" height="77.03" fill="#d6d5d5"/><rect x="316.17" y="155.53" width="2.9" height="66.97" fill="#d6d5d5"/><rect x="324.49" y="147.52" width="2.9" height="74.98" fill="#d6d5d5"/><rect x="332.82" y="153.02" width="2.9" height="69.48" fill="#d6d5d5"/><rect x="341.14" y="145.47" width="2.9" height="77.03" fill="#d6d5d5"/><rect x="349.71" y="147.52" width="2.4" height="74.98" fill="#152f6b"/><rect x="357.79" y="128.73" width="2.9" height="93.77" fill="#d6d5d5"/><rect x="366.11" y="143.04" width="2.9" height="79.46" fill="#d6d5d5"/><rect x="374.44" y="141.78" width="2.9" height="80.72" fill="#d6d5d5"/><rect x="382.76" y="143.04" width="2.9" height="79.46" fill="#d6d5d5"/><rect x="391.08" y="145.47" width="2.9" height="77.03" fill="#d6d5d5"/><rect x="399.41" y="146.73" width="2.9" height="75.77" fill="#d6d5d5"/><rect x="407.73" y="152.55" width="2.9" height="69.95" fill="#d6d5d5"/><rect x="416.06" y="161.74" width="2.9" height="60.76" fill="#d6d5d5"/><rect x="424.38" y="143.04" width="2.9" height="79.46" fill="#d6d5d5"/><rect x="432.7" y="144.29" width="2.9" height="78.21" fill="#d6d5d5"/><rect x="441.03" y="120.48" width="2.9" height="102.02" fill="#d6d5d5"/><text x="51.25" y="234.58" font-size="7.2" text-anchor="middle" fill="#9a9a9a">2017</text><text x="151.14" y="234.58" font-size="7.2" text-anchor="middle" fill="#9a9a9a">2018</text><text x="251.03" y="234.58" font-size="7.2" text-anchor="middle" fill="#9a9a9a">2019</text><text x="350.91" y="234.58" font-size="7.2" text-anchor="middle" fill="#9a9a9a">2020</text></svg></section>
<section class="s" style="left:0px;top:840px"><svg width="475" height="270" viewBox="0 0 475 270"><path d="M0 0H475V41.5Q237.5 19 0 41.5Z" fill="#2a579d"/><path d="M475 41.5Q237.5 19 0 41.5" fill="none" stroke="#1f4685" stroke-width="0.8" opacity="0.7"/><use href="#logo" x="450.5" y="39.5"/><text x="14.7" y="24.01" font-size="13.85" font-weight="700" fill="#fff">销售数据对比</text><text x="15" y="261.74" font-size="5.9" fill="#666">郑州铁路职业技术学院</text><text x="75.5" y="261.83" font-size="6.5" fill="#777">|</text><text x="79.5" y="261.81" font-size="6.45" fill="#9a9a9a">University Name</text><text x="385.75" y="261.83" font-size="6.5" letter-spacing="0.1" fill="#9a9a9a">www.pptgenius.com</text><text x="448" y="261.83" font-size="6.5" fill="#c8c8c8">|</text><text x="452" y="261.65" font-size="6" font-weight="700" fill="#333">28</text><text x="175" y="69.82" font-size="14" fill="#262626">不同年份销量一览表</text><rect x="166.25" y="85.8" width="4.4" height="4.4" fill="#1f4e9c"/><text x="172.5" y="90.85" font-size="7.5" fill="#444">系列</text><text x="187.85" y="90.75" font-size="7.4" fill="#444">1</text><rect x="206.25" y="85.8" width="4.4" height="4.4" fill="#7f7f7f"/><text x="212.5" y="90.85" font-size="7.5" fill="#444">系列</text><text x="227.85" y="90.75" font-size="7.4" fill="#444">2</text><rect x="246.25" y="85.8" width="4.4" height="4.4" fill="#bfbfbf"/><text x="252.5" y="90.85" font-size="7.5" fill="#444">系列</text><text x="267.85" y="90.75" font-size="7.4" fill="#444">3</text><rect x="286.25" y="85.8" width="4.4" height="4.4" fill="#d9d9d9"/><text x="292.5" y="90.85" font-size="7.5" fill="#444">系列</text><text x="307.85" y="90.75" font-size="7.4" fill="#444">4</text><rect x="37.5" y="103.75" width="418.25" height="121.75" fill="url(#pg)"/><text x="32.5" y="227.58" font-size="5.8" text-anchor="end" fill="#bcbcbc">0</text><text x="32.5" y="214.05" font-size="5.8" text-anchor="end" fill="#bcbcbc">20</text><text x="32.5" y="200.52" font-size="5.8" text-anchor="end" fill="#bcbcbc">40</text><text x="32.5" y="186.99" font-size="5.8" text-anchor="end" fill="#bcbcbc">60</text><text x="32.5" y="173.46" font-size="5.8" text-anchor="end" fill="#bcbcbc">80</text><text x="32.5" y="159.93" font-size="5.8" text-anchor="end" fill="#bcbcbc">100</text><text x="32.5" y="146.4" font-size="5.8" text-anchor="end" fill="#bcbcbc">120</text><text x="32.5" y="132.87" font-size="5.8" text-anchor="end" fill="#bcbcbc">140</text><text x="32.5" y="119.34" font-size="5.8" text-anchor="end" fill="#bcbcbc">160</text><text x="32.5" y="105.81" font-size="5.8" text-anchor="end" fill="#bcbcbc">180</text><rect x="48" y="184.91" width="4.8" height="40.59" fill="#1f4e9c"/><rect x="55.5" y="188.97" width="4.8" height="36.53" fill="#7f7f7f"/><rect x="63" y="172.06" width="4.8" height="53.44" fill="#bfbfbf"/><rect x="70.25" y="161.23" width="4.8" height="64.27" fill="#d9d9d9"/><text x="61.4" y="238.47" font-size="6.9" text-anchor="middle" letter-spacing="0.3" fill="#9a9a9a">2010</text><rect x="94.44" y="171.38" width="4.8" height="54.12" fill="#1f4e9c"/><rect x="101.94" y="185.59" width="4.8" height="39.91" fill="#7f7f7f"/><rect x="109.44" y="167.32" width="4.8" height="58.18" fill="#bfbfbf"/><rect x="116.69" y="158.53" width="4.8" height="66.97" fill="#d9d9d9"/><text x="107.84" y="238.47" font-size="6.9" text-anchor="middle" letter-spacing="0.3" fill="#9a9a9a">2012</text><rect x="140.88" y="164.62" width="4.8" height="60.88" fill="#1f4e9c"/><rect x="148.38" y="174.76" width="4.8" height="50.74" fill="#7f7f7f"/><rect x="155.88" y="166.24" width="4.8" height="59.26" fill="#bfbfbf"/><rect x="163.13" y="156.7" width="4.8" height="68.8" fill="#d9d9d9"/><text x="154.28" y="238.47" font-size="6.9" text-anchor="middle" letter-spacing="0.3" fill="#9a9a9a">2014</text><rect x="187.32" y="157.85" width="4.8" height="67.65" fill="#1f4e9c"/><rect x="194.82" y="164.95" width="4.8" height="60.55" fill="#7f7f7f"/><rect x="202.32" y="163.94" width="4.8" height="61.56" fill="#bfbfbf"/><rect x="209.57" y="155.14" width="4.8" height="70.36" fill="#d9d9d9"/><text x="200.72" y="238.47" font-size="6.9" text-anchor="middle" letter-spacing="0.3" fill="#9a9a9a">2016</text><rect x="233.76" y="144.32" width="4.8" height="81.18" fill="#1f4e9c"/><rect x="241.26" y="172.06" width="4.8" height="53.44" fill="#7f7f7f"/><rect x="248.76" y="159.47" width="4.8" height="66.03" fill="#bfbfbf"/><rect x="256.01" y="151.22" width="4.8" height="74.28" fill="#d9d9d9"/><text x="247.16" y="238.47" font-size="6.9" text-anchor="middle" letter-spacing="0.3" fill="#9a9a9a">2018</text><rect x="280.2" y="151.09" width="4.8" height="74.41" fill="#1f4e9c"/><rect x="287.7" y="164.95" width="4.8" height="60.55" fill="#7f7f7f"/><rect x="295.2" y="157.85" width="4.8" height="67.65" fill="#bfbfbf"/><rect x="302.45" y="144.32" width="4.8" height="81.18" fill="#d9d9d9"/><text x="293.6" y="238.47" font-size="6.9" text-anchor="middle" letter-spacing="0.3" fill="#9a9a9a">2020</text><rect x="326.64" y="117.26" width="4.8" height="108.24" fill="#1f4e9c"/><rect x="334.14" y="161.23" width="4.8" height="64.27" fill="#7f7f7f"/><rect x="341.64" y="151.09" width="4.8" height="74.41" fill="#bfbfbf"/><rect x="348.89" y="140.46" width="4.8" height="85.04" fill="#d9d9d9"/><text x="340.04" y="238.47" font-size="6.9" text-anchor="middle" letter-spacing="0.3" fill="#9a9a9a">2022</text><rect x="373.08" y="124.03" width="4.8" height="101.47" fill="#1f4e9c"/><rect x="380.58" y="144.32" width="4.8" height="81.18" fill="#7f7f7f"/><rect x="388.08" y="144.32" width="4.8" height="81.18" fill="#bfbfbf"/><rect x="395.33" y="137.96" width="4.8" height="87.54" fill="#d9d9d9"/><text x="386.48" y="238.47" font-size="6.9" text-anchor="middle" letter-spacing="0.3" fill="#9a9a9a">2024</text><rect x="419.52" y="137.56" width="4.8" height="87.94" fill="#1f4e9c"/><rect x="427.02" y="151.09" width="4.8" height="74.41" fill="#7f7f7f"/><rect x="434.52" y="137.96" width="4.8" height="87.54" fill="#bfbfbf"/><rect x="441.77" y="134.17" width="4.8" height="91.33" fill="#d9d9d9"/><text x="432.92" y="238.47" font-size="6.9" text-anchor="middle" letter-spacing="0.3" fill="#9a9a9a">2026</text></svg></section>
<section class="s" style="left:485px;top:840px"><svg width="475" height="270" viewBox="0 0 475 270"><path d="M0 0H475V41.5Q237.5 19 0 41.5Z" fill="#2a579d"/><path d="M475 41.5Q237.5 19 0 41.5" fill="none" stroke="#1f4685" stroke-width="0.8" opacity="0.7"/><use href="#logo" x="450.5" y="39.5"/><text x="14.7" y="24.01" font-size="13.85" font-weight="700" fill="#fff">排行榜条形图表</text><text x="15" y="261.74" font-size="5.9" fill="#666">郑州铁路职业技术学院</text><text x="75.5" y="261.83" font-size="6.5" fill="#777">|</text><text x="79.5" y="261.81" font-size="6.45" fill="#9a9a9a">University Name</text><text x="385.75" y="261.83" font-size="6.5" letter-spacing="0.1" fill="#9a9a9a">www.pptgenius.com</text><text x="448" y="261.83" font-size="6.5" fill="#c8c8c8">|</text><text x="452" y="261.65" font-size="6" font-weight="700" fill="#333">29</text><text x="182" y="69.82" font-size="14" fill="#262626">评分排行榜条形图</text><text x="49" y="233.86" font-size="8" text-anchor="middle" fill="#c9c9c9">0</text><path d="M88.92 88L88.92 222" stroke="#f2f2f2" stroke-width="0.8" fill="none"/><text x="88.92" y="233.86" font-size="8" text-anchor="middle" fill="#c9c9c9">1</text><path d="M128.84 88L128.84 222" stroke="#f2f2f2" stroke-width="0.8" fill="none"/><text x="128.84" y="233.86" font-size="8" text-anchor="middle" fill="#c9c9c9">2</text><path d="M168.76 88L168.76 222" stroke="#f2f2f2" stroke-width="0.8" fill="none"/><text x="168.76" y="233.86" font-size="8" text-anchor="middle" fill="#c9c9c9">3</text><path d="M208.68 88L208.68 222" stroke="#f2f2f2" stroke-width="0.8" fill="none"/><text x="208.68" y="233.86" font-size="8" text-anchor="middle" fill="#c9c9c9">4</text><path d="M248.6 88L248.6 222" stroke="#f2f2f2" stroke-width="0.8" fill="none"/><text x="248.6" y="233.86" font-size="8" text-anchor="middle" fill="#c9c9c9">5</text><path d="M288.52 88L288.52 222" stroke="#f2f2f2" stroke-width="0.8" fill="none"/><text x="288.52" y="233.86" font-size="8" text-anchor="middle" fill="#c9c9c9">6</text><path d="M328.44 88L328.44 222" stroke="#f2f2f2" stroke-width="0.8" fill="none"/><text x="328.44" y="233.86" font-size="8" text-anchor="middle" fill="#c9c9c9">7</text><path d="M368.36 88L368.36 222" stroke="#f2f2f2" stroke-width="0.8" fill="none"/><text x="368.36" y="233.86" font-size="8" text-anchor="middle" fill="#c9c9c9">8</text><path d="M408.28 88L408.28 222" stroke="#f2f2f2" stroke-width="0.8" fill="none"/><text x="408.28" y="233.86" font-size="8" text-anchor="middle" fill="#c9c9c9">9</text><path d="M448.2 88L448.2 222" stroke="#f2f2f2" stroke-width="0.8" fill="none"/><text x="448.2" y="233.86" font-size="8" text-anchor="middle" fill="#c9c9c9">10</text><rect x="49" y="92" width="355.29" height="8" fill="#2a579d"/><text x="21.8" y="98.51" font-size="6.6" fill="#b4b4b4">系列</text><text x="37.2" y="98.36" font-size="6.6" fill="#b4b4b4">8</text><text x="402.89" y="98.46" font-size="6.3" text-anchor="end" fill="#fff">8.9</text><rect x="49" y="108.57" width="299.4" height="8" fill="#2a579d"/><text x="21.8" y="115.08" font-size="6.6" fill="#b4b4b4">系列</text><text x="37.2" y="114.93" font-size="6.6" fill="#b4b4b4">7</text><text x="347" y="115.03" font-size="6.3" text-anchor="end" fill="#fff">7.5</text><rect x="49" y="125.14" width="191.62" height="8" fill="#2a579d"/><text x="21.8" y="131.65" font-size="6.6" fill="#b4b4b4">系列</text><text x="37.2" y="131.5" font-size="6.6" fill="#b4b4b4">6</text><text x="239.22" y="131.6" font-size="6.3" text-anchor="end" fill="#fff">4.8</text><rect x="49" y="141.71" width="183.63" height="8" fill="#bfbfbf"/><text x="21.8" y="148.22" font-size="6.6" fill="#b4b4b4">系列</text><text x="37.2" y="148.07" font-size="6.6" fill="#b4b4b4">5</text><text x="231.23" y="148.17" font-size="6.3" text-anchor="end" fill="#333">4.6</text><rect x="49" y="158.28" width="159.68" height="8" fill="#bfbfbf"/><text x="21.8" y="164.79" font-size="6.6" fill="#b4b4b4">类别</text><text x="37.2" y="164.64" font-size="6.6" fill="#b4b4b4">4</text><text x="207.28" y="164.74" font-size="6.3" text-anchor="end" fill="#333">4</text><rect x="49" y="174.85" width="139.72" height="8" fill="#bfbfbf"/><text x="21.8" y="181.36" font-size="6.6" fill="#b4b4b4">类别</text><text x="37.2" y="181.21" font-size="6.6" fill="#b4b4b4">3</text><text x="187.32" y="181.31" font-size="6.3" text-anchor="end" fill="#333">3.5</text><rect x="49" y="191.42" width="127.74" height="8" fill="#bfbfbf"/><text x="21.8" y="197.93" font-size="6.6" fill="#b4b4b4">类别</text><text x="37.2" y="197.78" font-size="6.6" fill="#b4b4b4">2</text><text x="175.34" y="197.88" font-size="6.3" text-anchor="end" fill="#333">3.2</text><rect x="49" y="207.99" width="99.8" height="8" fill="#bfbfbf"/><text x="21.8" y="214.5" font-size="6.6" fill="#b4b4b4">类别</text><text x="37.2" y="214.35" font-size="6.6" fill="#b4b4b4">1</text><text x="147.4" y="214.45" font-size="6.3" text-anchor="end" fill="#333">2.5</text></svg></section>
<section class="s" style="left:0px;top:1120px"><svg width="475" height="270" viewBox="0 0 475 270"><path d="M0 0H475V41.5Q237.5 19 0 41.5Z" fill="#2a579d"/><path d="M475 41.5Q237.5 19 0 41.5" fill="none" stroke="#1f4685" stroke-width="0.8" opacity="0.7"/><use href="#logo" x="450.5" y="39.5"/><text x="14.7" y="24.01" font-size="13.85" font-weight="700" fill="#fff">数据表格</text><text x="15" y="261.74" font-size="5.9" fill="#666">郑州铁路职业技术学院</text><text x="75.5" y="261.83" font-size="6.5" fill="#777">|</text><text x="79.5" y="261.81" font-size="6.45" fill="#9a9a9a">University Name</text><text x="385.75" y="261.83" font-size="6.5" letter-spacing="0.1" fill="#9a9a9a">www.pptgenius.com</text><text x="448" y="261.83" font-size="6.5" fill="#c8c8c8">|</text><text x="452" y="261.65" font-size="6" font-weight="700" fill="#333">30</text><rect x="18.75" y="75.5" width="75.75" height="51.2" fill="#f2f2f2"/><rect x="94.5" y="75.5" width="362.25" height="51.2" fill="#fff"/><rect x="18.75" y="58" width="438" height="17.5" fill="#2a579d"/><text x="27.1" y="69.9" font-size="7.9" font-weight="700" fill="#fff">序号</text><text x="64.97" y="69.9" font-size="7.9" font-weight="700" fill="#fff">项目</text><text x="197.7" y="69.9" font-size="7.9" font-weight="700" fill="#fff">行动方案</text><text x="350.9" y="69.9" font-size="7.9" font-weight="700" fill="#fff">负责人</text><text x="409.07" y="69.9" font-size="7.9" font-weight="700" fill="#fff">时间节点</text><path d="M18.75 75.5L18.75 126.7" stroke="#dcdcdc" stroke-width="0.7" fill="none"/><path d="M51.25 75.5L51.25 126.7" stroke="#dcdcdc" stroke-width="0.7" fill="none"/><path d="M94.5 75.5L94.5 126.7" stroke="#dcdcdc" stroke-width="0.7" fill="none"/><path d="M332.5 75.5L332.5 126.7" stroke="#dcdcdc" stroke-width="0.7" fill="none"/><path d="M393 75.5L393 126.7" stroke="#dcdcdc" stroke-width="0.7" fill="none"/><path d="M456.75 75.5L456.75 126.7" stroke="#dcdcdc" stroke-width="0.7" fill="none"/><path d="M18.75 101.1L51.25 101.1" stroke="#dcdcdc" stroke-width="0.7" fill="none"/><path d="M94.5 101.1L456.75 101.1" stroke="#dcdcdc" stroke-width="0.7" fill="none"/><path d="M18.75 126.7L51.25 126.7" stroke="#dcdcdc" stroke-width="0.7" fill="none"/><path d="M51.25 126.7L94.5 126.7" stroke="#dcdcdc" stroke-width="0.7" fill="none"/><path d="M94.5 126.7L456.75 126.7" stroke="#dcdcdc" stroke-width="0.7" fill="none"/><text x="35" y="90.73" font-size="6.8" text-anchor="middle" fill="#777">1</text><text x="98.75" y="86.82" font-size="6.9" fill="#333">标题数字等都可以通过点击和重新输入进行更改，顶部“开始”面板中可以</text><text x="98.75" y="95.52" font-size="6.9" fill="#333">对字体、字号、颜色、行距等进行修改</text><text x="355.85" y="91.22" font-size="6.9" fill="#333">张三</text><text x="406.87" y="91.22" font-size="6.9" fill="#333">11月30日前</text><text x="35" y="116.33" font-size="6.8" text-anchor="middle" fill="#777">2</text><text x="98.75" y="112.42" font-size="6.9" fill="#333">标题数字等都可以通过点击和重新输入进行更改，顶部“开始”面板中可以</text><text x="98.75" y="121.12" font-size="6.9" fill="#333">对字体、字号、颜色、行距等进行修改</text><text x="355.85" y="116.82" font-size="6.9" fill="#333">李四</text><text x="406.87" y="116.82" font-size="6.9" fill="#333">11月15日前</text><text x="59.08" y="99.92" font-size="6.9" fill="#444">保有客户</text><text x="65.97" y="107.92" font-size="6.9" fill="#444">激活</text><rect x="18.75" y="157.75" width="75.75" height="68" fill="#f2f2f2"/><rect x="94.5" y="157.75" width="362.25" height="68" fill="#fff"/><rect x="18.75" y="140.25" width="438" height="17.5" fill="#7f7f7f"/><text x="27.1" y="152.15" font-size="7.9" font-weight="700" fill="#fff">序号</text><text x="64.97" y="152.15" font-size="7.9" font-weight="700" fill="#fff">项目</text><text x="197.7" y="152.15" font-size="7.9" font-weight="700" fill="#fff">行动方案</text><text x="350.9" y="152.15" font-size="7.9" font-weight="700" fill="#fff">负责人</text><text x="409.07" y="152.15" font-size="7.9" font-weight="700" fill="#fff">时间节点</text><path d="M18.75 157.75L18.75 225.75" stroke="#dcdcdc" stroke-width="0.7" fill="none"/><path d="M51.25 157.75L51.25 225.75" stroke="#dcdcdc" stroke-width="0.7" fill="none"/><path d="M94.5 157.75L94.5 225.75" stroke="#dcdcdc" stroke-width="0.7" fill="none"/><path d="M332.5 157.75L332.5 225.75" stroke="#dcdcdc" stroke-width="0.7" fill="none"/><path d="M393 157.75L393 225.75" stroke="#dcdcdc" stroke-width="0.7" fill="none"/><path d="M456.75 157.75L456.75 225.75" stroke="#dcdcdc" stroke-width="0.7" fill="none"/><path d="M18.75 174.75L51.25 174.75" stroke="#dcdcdc" stroke-width="0.7" fill="none"/><path d="M94.5 174.75L456.75 174.75" stroke="#dcdcdc" stroke-width="0.7" fill="none"/><path d="M18.75 191.75L51.25 191.75" stroke="#dcdcdc" stroke-width="0.7" fill="none"/><path d="M51.25 191.75L94.5 191.75" stroke="#dcdcdc" stroke-width="0.7" fill="none"/><path d="M94.5 191.75L456.75 191.75" stroke="#dcdcdc" stroke-width="0.7" fill="none"/><path d="M18.75 208.75L51.25 208.75" stroke="#dcdcdc" stroke-width="0.7" fill="none"/><path d="M94.5 208.75L456.75 208.75" stroke="#dcdcdc" stroke-width="0.7" fill="none"/><path d="M18.75 225.75L51.25 225.75" stroke="#dcdcdc" stroke-width="0.7" fill="none"/><path d="M51.25 225.75L94.5 225.75" stroke="#dcdcdc" stroke-width="0.7" fill="none"/><path d="M94.5 225.75L456.75 225.75" stroke="#dcdcdc" stroke-width="0.7" fill="none"/><text x="35" y="168.68" font-size="6.8" text-anchor="middle" fill="#777">1</text><text x="98.75" y="169.07" font-size="6.9" fill="#333">标题数字等都可以通过点击和重新输入进行更改</text><text x="352.4" y="169.17" font-size="6.9" fill="#333">内训师</text><text x="411.07" y="169.17" font-size="6.9" fill="#333">即日实施</text><text x="35" y="185.68" font-size="6.8" text-anchor="middle" fill="#777">2</text><text x="98.75" y="186.07" font-size="6.9" fill="#333">标题数字等都可以通过点击和重新输入进行更改</text><text x="352.4" y="186.17" font-size="6.9" fill="#333">内训师</text><text x="417.6" y="186.17" font-size="6.9" fill="#333">11月</text><text x="35" y="202.68" font-size="6.8" text-anchor="middle" fill="#777">3</text><text x="98.75" y="203.07" font-size="6.9" fill="#333">标题数字等都可以通过点击和重新输入进行更改</text><text x="352.4" y="203.17" font-size="6.9" fill="#333">内训师</text><text x="417.6" y="203.17" font-size="6.9" fill="#333">11月</text><text x="35" y="219.68" font-size="6.8" text-anchor="middle" fill="#777">4</text><text x="98.75" y="220.07" font-size="6.9" fill="#333">标题数字等都可以通过点击和重新输入进行更改</text><text x="352.4" y="220.17" font-size="6.9" fill="#333">内训师</text><text x="406.95" y="220.17" font-size="6.9" fill="#333">至少1次 /月</text><text x="59.08" y="176.87" font-size="6.9" fill="#444">服务标准</text><text x="59.08" y="210.87" font-size="6.9" fill="#444">销售技能</text></svg></section>
<section class="s" style="left:485px;top:1120px"><svg width="475" height="270" viewBox="0 0 475 270"><path d="M0 0H475V41.5Q237.5 19 0 41.5Z" fill="#2a579d"/><path d="M475 41.5Q237.5 19 0 41.5" fill="none" stroke="#1f4685" stroke-width="0.8" opacity="0.7"/><use href="#logo" x="450.5" y="39.5"/><text x="14.7" y="24.01" font-size="13.85" font-weight="700" fill="#fff">数据对比</text><text x="15" y="261.74" font-size="5.9" fill="#666">郑州铁路职业技术学院</text><text x="75.5" y="261.83" font-size="6.5" fill="#777">|</text><text x="79.5" y="261.81" font-size="6.45" fill="#9a9a9a">University Name</text><text x="385.75" y="261.83" font-size="6.5" letter-spacing="0.1" fill="#9a9a9a">www.pptgenius.com</text><text x="448" y="261.83" font-size="6.5" fill="#c8c8c8">|</text><text x="452" y="261.65" font-size="6" font-weight="700" fill="#333">31</text><rect x="35.75" y="67.5" width="101.2" height="87.5" fill="#e5e4e4"/><rect x="136.75" y="67.5" width="86.75" height="87.5" fill="#2a579d"/><use href="#imgico" transform="translate(90.25 110.5) scale(1)"/><circle cx="181.25" cy="110" r="29.6" fill="none" stroke="#9fb3da" stroke-width="1.1"/><path d="M181.25 80.4A29.6 29.6 0 1 1 163.85 133.95" stroke="#fff" stroke-width="3" fill="none"/><text x="165.75" y="117.64" font-size="20.5" fill="#fff">60</text><text x="189.85" y="117.4" font-size="9.5" fill="#fff">%</text><text x="36.75" y="190.73" font-size="11.8" font-weight="700" fill="#1d4a97">点击此处添加您的标题</text><text x="36.75" y="205.93" font-size="7.05" fill="#333">标题数字等都可以通过点击和重新输入进行更改，顶部“开</text><text x="36.75" y="218.18" font-size="7.05" fill="#333">始”面板中可以对字体、字号、颜色</text><rect x="250" y="67.5" width="101.2" height="87.5" fill="#e5e4e4"/><rect x="351" y="67.5" width="86.75" height="87.5" fill="#2a579d"/><use href="#imgico" transform="translate(304.5 110.5) scale(1)"/><circle cx="395.5" cy="110" r="29.6" fill="none" stroke="#9fb3da" stroke-width="1.1"/><path d="M395.5 80.4A29.6 29.6 0 1 1 367.35 100.85" stroke="#fff" stroke-width="3" fill="none"/><text x="380" y="117.64" font-size="20.5" fill="#fff">80</text><text x="404.1" y="117.4" font-size="9.5" fill="#fff">%</text><text x="251" y="190.73" font-size="11.8" font-weight="700" fill="#1d4a97">点击此处添加您的标题</text><text x="251" y="205.93" font-size="7.05" fill="#333">标题数字等都可以通过点击和重新输入进行更改，顶部“开</text><text x="251" y="218.18" font-size="7.05" fill="#333">始”面板中可以对字体、字号、颜色</text></svg></section>
</body></html>
